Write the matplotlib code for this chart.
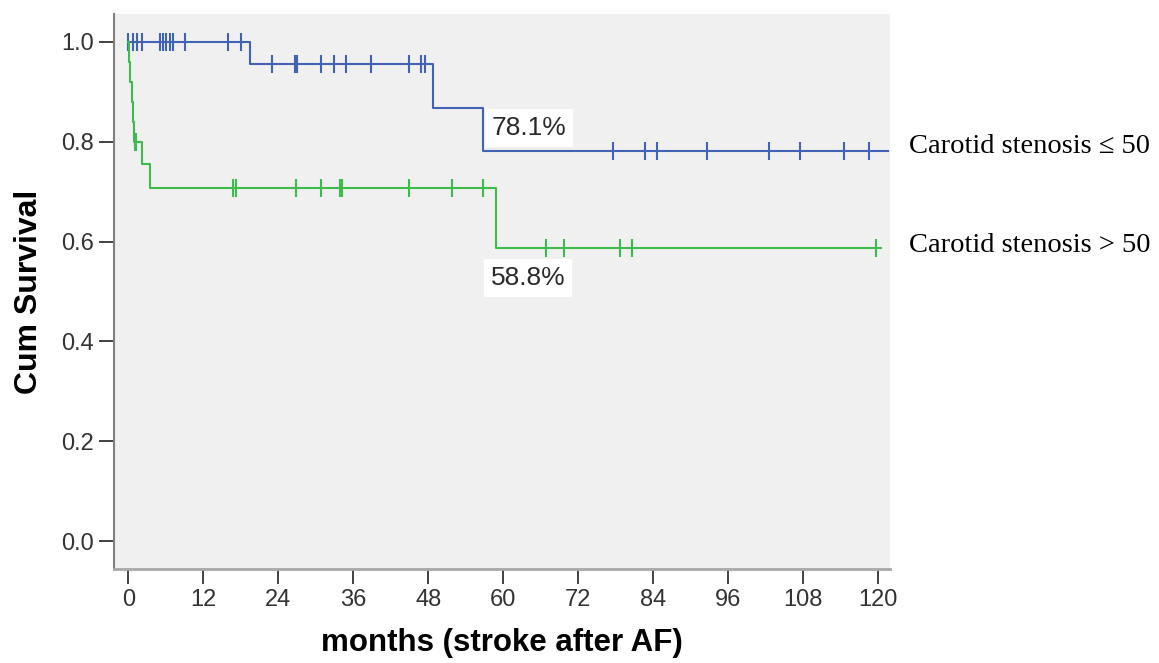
import numpy as np
import matplotlib
matplotlib.use("Agg")
import matplotlib.pyplot as plt
import matplotlib.transforms as mtransforms

# Kaplan-Meier steps (months, cumulative survival)
low_step_t = [0, 19.4, 48.8, 56.8, 121.6]
low_step_s = [1.0, 0.955, 0.868, 0.781, 0.781]
low_cens_t = [0.0, 0.7, 1.3, 2.1, 5.0, 5.5, 6.0, 6.6, 7.1, 9.1, 16.0, 18.0,
              23.0, 26.7, 27.0, 30.9, 32.9, 34.9, 38.9, 44.9, 46.8, 47.5,
              77.6, 82.7, 84.6, 92.6, 102.6, 107.5, 114.5, 118.5]

high_step_t = [0, 0.1, 0.3, 0.5, 0.7, 0.9, 2.1, 3.5, 58.8, 120.5]
high_step_s = [1.0, 0.96, 0.92, 0.88, 0.84, 0.80, 0.755, 0.707, 0.588, 0.588]
high_cens_t = [1.0, 1.2, 16.8, 17.2, 26.9, 30.9, 33.8, 34.2, 44.9, 51.8, 56.8,
               66.8, 69.7, 78.7, 80.6, 119.6]

labels = ["Carotid stenosis \u2264 50", "Carotid stenosis > 50"]
pct_text = ["78.1%", "58.8%"]
xticks = list(range(0, 121, 12))
yticks = [0.0, 0.2, 0.4, 0.6, 0.8, 1.0]

blue = "#4262b4"
green = "#3dbb4c"


def surv_at(t, step_t, step_s):
    idx = np.searchsorted(step_t, t, side="right") - 1
    return np.array(step_s)[idx]


fig = plt.figure(figsize=(11.59, 6.63), dpi=100)
ax = fig.add_axes([0.0984, 0.1418, 0.6695, 0.8371])
ax.set_facecolor("#f0f0f0")

for st, ss, ct, col in [(low_step_t, low_step_s, low_cens_t, blue),
                        (high_step_t, high_step_s, high_cens_t, green)]:
    ax.step(st, ss, where="post", color=col, lw=1.5, zorder=3)
    ax.plot(ct, surv_at(np.array(ct), st, ss), ls="none", marker="|",
            ms=13, mew=1.5, color=col, zorder=3)

# percentage boxes
ax.text(64.1, 0.828, pct_text[0], ha="center", va="center", fontsize=19,
        family=["Liberation Sans", "DejaVu Sans"], color="#2a2a2a", zorder=5,
        bbox=dict(facecolor="white", edgecolor="none", pad=5))
ax.text(64.0, 0.527, pct_text[1], ha="center", va="center", fontsize=19,
        family=["Liberation Sans", "DejaVu Sans"], color="#2a2a2a", zorder=5,
        bbox=dict(facecolor="white", edgecolor="none", pad=5))

# group labels at the right of the axes
trans = mtransforms.blended_transform_factory(ax.transAxes, ax.transData)
for lab, yv in zip(labels, [low_step_s[-1] + 0.009, high_step_s[-1] + 0.005]):
    ax.text(1.0245, yv, lab, transform=trans, ha="left", va="center",
            fontsize=20.5, family=["Liberation Serif", "DejaVu Serif"],
            color="black", clip_on=False)

ax.set_xlim(-2.3, 121.9)
ax.set_ylim(-0.056, 1.056)
ax.set_xticks(xticks)
ax.set_yticks(yticks)
ax.set_yticklabels([f"{v:.1f}" for v in yticks])

for sp in ["top", "right"]:
    ax.spines[sp].set_visible(False)
ax.spines["left"].set_color("#808080")
ax.spines["left"].set_linewidth(1.5)
ax.spines["bottom"].set_color("#a8a8a8")
ax.spines["bottom"].set_linewidth(2)

ax.tick_params(axis="both", direction="out", length=11, width=1.3,
               color="#333333", labelcolor="#333333")
for lab in ax.get_xticklabels():
    lab.set_family(["Liberation Sans", "DejaVu Sans"])
    lab.set_fontsize(17)
for lab in ax.get_yticklabels():
    lab.set_family(["Liberation Sans", "DejaVu Sans"])
    lab.set_fontsize(17)

ax.set_xlabel("months (stroke after AF)", fontsize=22.5, fontweight="bold",
              family=["Liberation Sans", "DejaVu Sans"], labelpad=12)
ax.set_ylabel("Cum Survival", fontsize=23, fontweight="bold",
              family=["Liberation Sans", "DejaVu Sans"], labelpad=12)

fig.savefig("out.png", dpi=100)
